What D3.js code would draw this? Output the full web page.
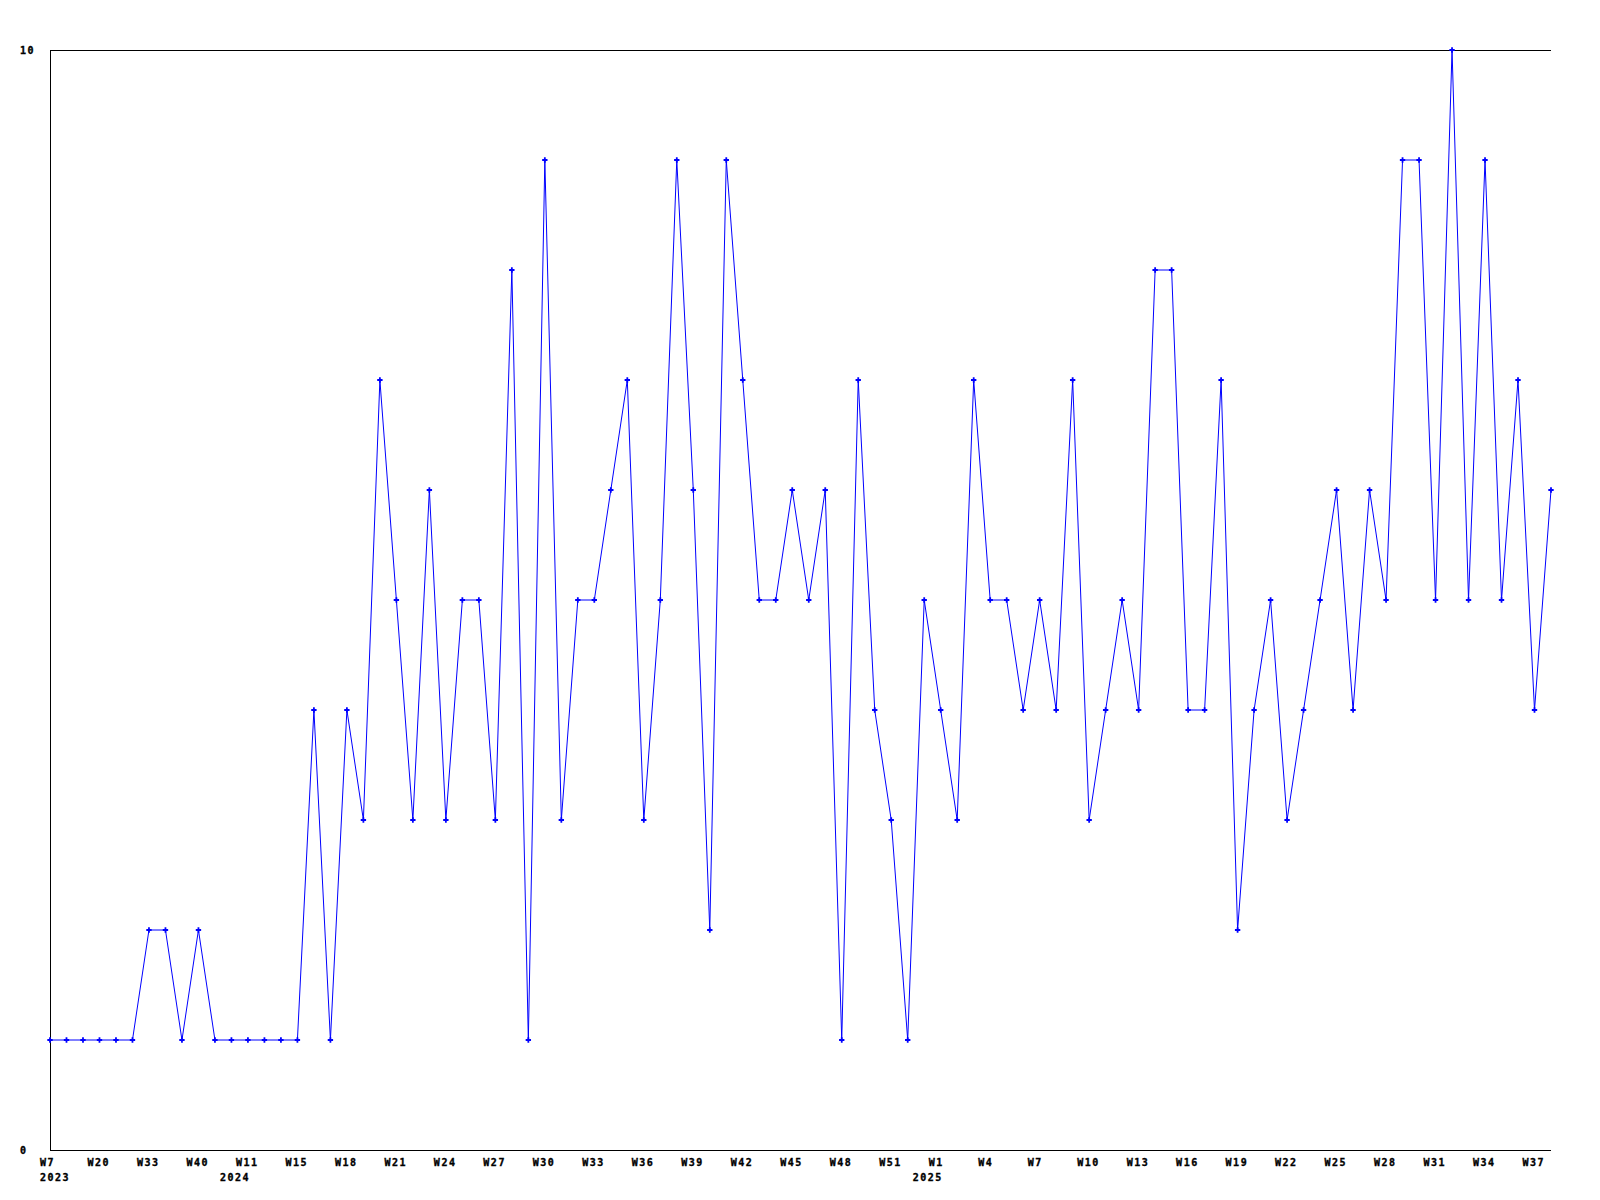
<!DOCTYPE html>
<html>
<head>
<meta charset="utf-8">
<script src="https://cdn.jsdelivr.net/npm/d3@7"></script>
<style>
  body { margin: 0; background: #fff; }
  text { font-family: "DejaVu Sans Mono", monospace; font-weight: bold; font-size: 10px; fill: #000;
         stroke: #000; stroke-width: 0.35px; letter-spacing: 1.5px; }
</style>
</head>
<body>
<div id="wrapper"></div>
<script>
// week labels, one per point (only every third one is drawn on the axis)
const weeks = [
  "W7", "W11", "W15", "W20", "W24", "W28", "W33", "W35", "W37", "W40", "W45", "W49",
  "W11", "W12", "W14", "W15", "W16", "W17", "W18", "W19", "W20", "W21", "W22", "W23",
  "W24", "W25", "W26", "W27", "W28", "W29", "W30", "W31", "W32", "W33", "W34", "W35",
  "W36", "W37", "W38", "W39", "W40", "W41", "W42", "W43", "W44", "W45", "W46", "W47",
  "W48", "W49", "W50", "W51", "W52", "W53",
  "W1", "W2", "W3", "W4", "W5", "W6", "W7", "W8", "W9", "W10", "W11", "W12",
  "W13", "W14", "W15", "W16", "W17", "W18", "W19", "W20", "W21", "W22", "W23", "W24",
  "W25", "W26", "W27", "W28", "W29", "W30", "W31", "W32", "W33", "W34", "W35", "W36",
  "W37", "W38"
];
const years = [
  ...Array(12).fill(2023),
  ...Array(42).fill(2024),
  ...Array(38).fill(2025)
];
const values = [
  1, 1, 1, 1, 1, 1, 2, 2, 1, 2, 1, 1,
  1, 1, 1, 1, 4, 1, 4, 3, 7, 5, 3, 6,
  3, 5, 5, 3, 8, 1, 9, 3, 5, 5, 6, 7,
  3, 5, 9, 6, 2, 9, 7, 5, 5, 6, 5, 6,
  1, 7, 4, 3, 1, 5,
  4, 3, 7, 5, 5, 4, 5, 4, 7, 3, 4, 5,
  4, 8, 8, 4, 4, 7, 2, 4, 5, 3, 4, 5,
  6, 4, 6, 5, 9, 9, 5, 10, 5, 9, 5, 7,
  4, 6
];
const Y_TICKS = [0, 10];

const data = values.map((v, i) => ({ i, week: weeks[i], year: years[i], value: v }));

const dimensions = {
  width: 1600,
  height: 1200,
  margin: { top: 50, right: 49, bottom: 50, left: 50 }
};
dimensions.boundedWidth = dimensions.width - dimensions.margin.left - dimensions.margin.right;
dimensions.boundedHeight = dimensions.height - dimensions.margin.top - dimensions.margin.bottom;

const svg = d3.select("#wrapper")
  .append("svg")
  .attr("width", dimensions.width)
  .attr("height", dimensions.height);

svg.append("rect")
  .attr("width", dimensions.width)
  .attr("height", dimensions.height)
  .attr("fill", "#fff");

const bounds = svg.append("g")
  .attr("transform", `translate(${dimensions.margin.left},${dimensions.margin.top})`);

const xScale = d3.scalePoint()
  .domain(d3.range(values.length))
  .range([0, dimensions.boundedWidth])
  .padding(0);

const yScale = d3.scaleLinear()
  .domain([0, 10])
  .range([dimensions.boundedHeight, 0]);

// frame: left, top, bottom (no right edge)
const frame = bounds.append("g")
  .attr("stroke", "#000")
  .attr("stroke-width", 1)
  .attr("shape-rendering", "crispEdges");
frame.append("line").attr("x1", 0).attr("x2", 0).attr("y1", 0).attr("y2", dimensions.boundedHeight);
frame.append("line").attr("x1", 0).attr("x2", dimensions.boundedWidth).attr("y1", 0).attr("y2", 0);
frame.append("line").attr("x1", 0).attr("x2", dimensions.boundedWidth)
  .attr("y1", dimensions.boundedHeight).attr("y2", dimensions.boundedHeight);

// y labels, left aligned at a fixed x
bounds.append("g")
  .selectAll("text")
  .data(Y_TICKS)
  .join("text")
  .attr("x", 20 - dimensions.margin.left)
  .attr("y", d => yScale(d) + 3.5)
  .text(d => d);

// x labels: every third point, year shown when it changes
// kept from running past x=40
const minX = 40 - dimensions.margin.left;
const shown = data.filter(d => d.i % 3 === 0);
const xLabels = bounds.append("g")
  .attr("transform", `translate(0,${dimensions.boundedHeight})`);

xLabels.selectAll(".week")
  .data(shown)
  .join("text")
  .attr("class", "week")
  .attr("x", d => Math.max(minX, xScale(d.i) - 12))
  .attr("y", 16)
  .text(d => d.week);

const yearTicks = shown.filter((d, k) => k === 0 || shown[k - 1].year !== d.year);
xLabels.selectAll(".year")
  .data(yearTicks)
  .join("text")
  .attr("class", "year")
  .attr("x", d => Math.max(minX, xScale(d.i) - 28))
  .attr("y", 31)
  .text(d => d.year);

const line = d3.line()
  .x(d => xScale(d.i))
  .y(d => yScale(d.value));

bounds.append("path")
  .datum(data)
  .attr("fill", "none")
  .attr("stroke", "#0000ff")
  .attr("stroke-width", 1)
  .attr("d", line);

const marker = d3.symbol(d3.symbolCross, 16);
bounds.selectAll(".marker")
  .data(data)
  .join("path")
  .attr("class", "marker")
  .attr("transform", d => `translate(${xScale(d.i)},${yScale(d.value)})`)
  .attr("d", marker)
  .attr("fill", "#0000ff");
</script>
</body>
</html>
